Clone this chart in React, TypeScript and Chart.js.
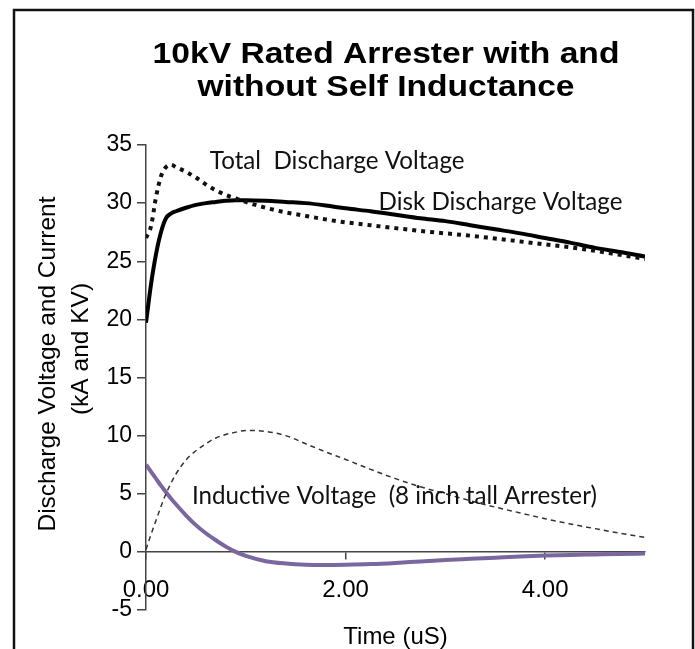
import React, { useEffect, useRef } from "react";
import { Chart, registerables } from "chart.js";

Chart.register(...registerables);

// ---- data ----
const timeUs = [
  0, 0.05, 0.1, 0.15, 0.2, 0.25, 0.3, 0.4, 0.5, 0.6, 0.7, 0.8, 0.9, 1.0, 1.2, 1.4, 1.6, 1.8, 2.0,
  2.25, 2.5, 2.75, 3.0, 3.25, 3.5, 3.75, 4.0, 4.25, 4.5, 4.75, 5.0,
];
const diskDischargeKV = [
  19.7, 23.0, 25.6, 27.5, 28.7, 29.1, 29.3, 29.6, 29.85, 30.0, 30.1, 30.2, 30.25, 30.25, 30.2, 30.1,
  30.0, 29.8, 29.55, 29.3, 29.0, 28.7, 28.45, 28.1, 27.75, 27.4, 27.0, 26.6, 26.15, 25.8, 25.4,
];
const totalDischargeKV = [
  27.0, 28.0, 30.5, 32.3, 33.1, 33.3, 33.1, 32.7, 32.2, 31.6, 31.1, 30.7, 30.4, 30.1, 29.6, 29.2,
  28.9, 28.6, 28.35, 28.1, 27.85, 27.6, 27.4, 27.2, 26.95, 26.7, 26.45, 26.2, 25.9, 25.55, 25.2,
];
const currentKA = [
  0.2, 1.5, 2.7, 3.9, 5.0, 5.9, 6.7, 7.9, 8.7, 9.3, 9.8, 10.1, 10.3, 10.45, 10.35, 10.0, 9.3, 8.6,
  7.95, 7.1, 6.3, 5.6, 5.0, 4.4, 3.85, 3.35, 2.85, 2.4, 2.0, 1.6, 1.25,
];
const inductiveKV = [
  7.5, 6.9, 6.3, 5.7, 5.15, 4.6, 4.1, 3.15, 2.3, 1.6, 1.0, 0.45, 0.0, -0.35, -0.8, -1.0, -1.1,
  -1.12, -1.1, -1.05, -0.95, -0.82, -0.7, -0.6, -0.5, -0.4, -0.32, -0.26, -0.22, -0.18, -0.15,
];

const yMin = -5;
const yMax = 35;
const yStep = 5;
const xMin = 0;
const xMax = 5;
const xStep = 2;

const chartTitle = ["10kV Rated Arrester with and", "without Self Inductance"];
const yAxisTitle = ["Discharge Voltage and Current", "(kA and KV)"];
const xAxisTitle = "Time (uS)";

const annotationTexts = ["Total  Discharge Voltage", "Disk Discharge Voltage", "Inductive Voltage  (8 inch tall Arrester)"];
const annotationX = [0.64, 2.33, 0.46];
const annotationY = [33.6, 30.1, 4.75];

const ARIAL = "'Liberation Sans', Arial, sans-serif";
const CALIBRI_LIKE = "Lato, 'Open Sans', sans-serif";

export default function App() {
  const ref = useRef<HTMLCanvasElement | null>(null);

  useEffect(() => {
    const canvas = ref.current;
    if (!canvas) return;
    const pts = (ys: number[]) => timeUs.map((t, i) => ({ x: t, y: ys[i] }));

    const framePlugin = {
      id: "frame",
      beforeDraw(chart: any) {
        const ctx = chart.ctx;
        ctx.save();
        ctx.fillStyle = "#ffffff";
        ctx.fillRect(0, 0, chart.width, chart.height);
        ctx.strokeStyle = "#111";
        ctx.lineWidth = 2.5;
        ctx.strokeRect(14, 10, 679, 700);
        ctx.restore();
      },
    };

    const textPlugin = {
      id: "texts",
      afterDatasetsDraw(chart: any) {
        const ctx = chart.ctx;
        const xs = chart.scales.x;
        const ys = chart.scales.y;
        ctx.save();
        ctx.fillStyle = "#000";
        ctx.textAlign = "center";
        ctx.textBaseline = "middle";

        // chart title (slightly wide, like the original)
        ctx.font = `bold 30px ${ARIAL}`;
        chartTitle.forEach((line, i) => {
          ctx.save();
          ctx.translate(386, 55 + i * 33);
          ctx.scale(1.12, 1);
          ctx.fillText(line, 0, 0);
          ctx.restore();
        });

        // y axis title, two rotated lines
        ctx.font = `24.5px ${ARIAL}`;
        const yTitlePos = [
          [48, 364],
          [81, 349],
        ];
        yAxisTitle.forEach((line, i) => {
          ctx.save();
          ctx.translate(yTitlePos[i][0], yTitlePos[i][1]);
          ctx.rotate(-Math.PI / 2);
          ctx.fillText(line, 0, 0);
          ctx.restore();
        });

        // annotation labels, sized so that "Disk Discharge Voltage" spans ~244px like the Calibri original
        ctx.font = `26px ${CALIBRI_LIKE}`;
        const w = ctx.measureText(annotationTexts[1]).width;
        const size = (26 * 244) / w;
        ctx.font = `${size.toFixed(2)}px ${CALIBRI_LIKE}`;
        ctx.textAlign = "left";
        ctx.fillStyle = "#111";
        annotationTexts.forEach((t, i) => {
          ctx.fillText(t, xs.getPixelForValue(annotationX[i]), ys.getPixelForValue(annotationY[i]));
        });
        ctx.restore();
      },
    };

    const chart = new Chart(canvas, {
      type: "scatter",
      data: {
        datasets: [
          {
            label: "Current",
            data: pts(currentKA),
            showLine: true,
            borderColor: "#333",
            borderWidth: 1.5,
            borderDash: [5, 4],
            pointRadius: 0,
            cubicInterpolationMode: "monotone",
          },
          {
            label: "Inductive Voltage",
            data: pts(inductiveKV),
            showLine: true,
            borderColor: "#7a67a0",
            borderWidth: 4,
            pointRadius: 0,
            cubicInterpolationMode: "monotone",
          },
          {
            label: "Total Discharge Voltage",
            data: pts(totalDischargeKV),
            showLine: true,
            borderColor: "#111",
            borderWidth: 4,
            borderDash: [4, 5],
            pointRadius: 0,
            cubicInterpolationMode: "monotone",
          },
          {
            label: "Disk Discharge Voltage",
            data: pts(diskDischargeKV),
            showLine: true,
            borderColor: "#000",
            borderWidth: 4,
            pointRadius: 0,
            cubicInterpolationMode: "monotone",
          },
        ],
      },
      options: {
        responsive: false,
        animation: false,
        layout: { padding: { left: 32, top: 145, right: 50, bottom: 39 } },
        plugins: { legend: { display: false }, title: { display: false }, tooltip: { enabled: false } },
        scales: {
          x: {
            type: "linear",
            position: { y: 0 } as any,
            min: xMin,
            max: xMax,
            border: { display: true, color: "#444", width: 1.5 },
            grid: { drawOnChartArea: false, drawTicks: true, tickLength: 7, color: "#444", lineWidth: 1.5 },
            ticks: {
              stepSize: xStep,
              includeBounds: false,
              maxRotation: 0,
              padding: 17,
              color: "#000",
              font: { family: ARIAL, size: 24 },
              callback: (v: any) => Number(v).toFixed(2),
            },
            title: {
              display: true,
              text: xAxisTitle,
              color: "#000",
              font: { family: ARIAL, size: 24 },
              padding: { top: 1, bottom: 0 },
            },
          },
          y: {
            type: "linear",
            position: "left",
            min: yMin,
            max: yMax,
            border: { display: true, color: "#444", width: 1.5 },
            grid: { drawOnChartArea: false, drawTicks: true, tickLength: 9, color: "#444", lineWidth: 1.5 },
            ticks: {
              stepSize: yStep,
              padding: 5,
              color: "#000",
              font: { family: ARIAL, size: 23 },
            },
            title: { display: false },
            afterFit: (scale: any) => {
              scale.width = 114;
            },
          },
        },
      },
      plugins: [framePlugin, textPlugin],
    } as any);

    return () => chart.destroy();
  }, []);

  return (
    <div style={{ position: "fixed", left: 0, top: 0, width: 695, height: 649 }}>
      <canvas ref={ref} width={695} height={649} style={{ display: "block" }} />
    </div>
  );
}
